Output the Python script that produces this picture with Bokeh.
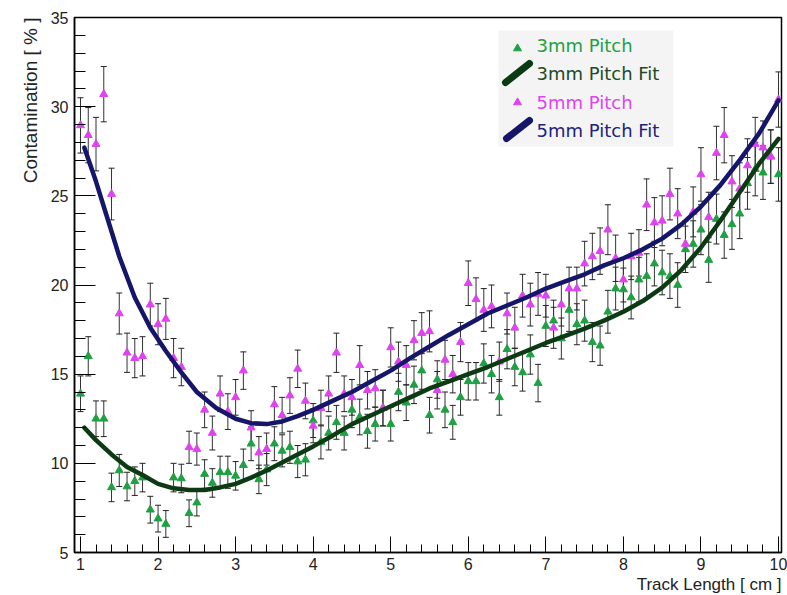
from bokeh.plotting import figure
from bokeh.models import (ColumnDataSource, Whisker, TeeHead, BoxAnnotation, Label,
                          Title, SingleIntervalTicker, Range1d)
from bokeh.embed import file_html
from bokeh.resources import INLINE

# ---------------- data ----------------
track_length = [1.0, 1.1, 1.2, 1.3, 1.4, 1.5, 1.6, 1.7, 1.8, 1.9,
                2.0, 2.1, 2.2, 2.3, 2.4, 2.5, 2.6, 2.7, 2.8, 2.9,
                3.0, 3.1, 3.2, 3.3, 3.4, 3.5, 3.6, 3.7, 3.8, 3.9,
                4.0, 4.1, 4.2, 4.3, 4.4, 4.5, 4.6, 4.7, 4.8, 4.9,
                5.0, 5.1, 5.2, 5.3, 5.4, 5.5, 5.6, 5.7, 5.8, 5.9,
                6.0, 6.1, 6.2, 6.3, 6.4, 6.5, 6.6, 6.7, 6.8, 6.9,
                7.0, 7.1, 7.2, 7.3, 7.4, 7.5, 7.6, 7.7, 7.8, 7.9,
                8.0, 8.1, 8.2, 8.3, 8.4, 8.5, 8.6, 8.7, 8.8, 8.9,
                9.0, 9.1, 9.2, 9.3, 9.4, 9.5, 9.6, 9.7, 9.8, 9.9, 10.0]

contam_3mm = [13.9, 16.0, 12.5, 12.5, 8.65, 9.6, 8.7, 9.0, 9.2, 7.4,
              6.9, 6.6, 9.2, 9.15, 7.2, 7.8, 9.4, 8.9, 9.5, 9.5,
              9.3, 9.9, 11.1, 9.1, 9.65, 11.1, 10.7, 10.9, 10.1, 10.2,
              12.4, 11.2, 11.7, 12.3, 11.7, 13.0, 12.6, 11.8, 12.2, 13.1,
              12.2, 14.0, 13.4, 14.4, 15.2, 12.7, 14.7, 13.0, 12.3, 13.7,
              14.6, 14.6, 15.6, 15.0, 13.7, 16.4, 15.4, 15.1, 16.1, 14.5,
              17.7, 18.0, 17.0, 18.6, 17.8, 18.0, 16.8, 16.6, 18.5, 19.8,
              19.75, 19.3, 20.3, 20.5, 21.2, 20.7, 20.5, 20.0, 22.0, 22.3,
              23.1, 21.4, 23.7, 22.8, 23.4, 24.0, 25.7, 26.5, 26.3, 27.2, 26.2]

err_3mm = [1.0, 1.1, 1.0, 1.0, 0.8, 0.9, 0.8, 0.8, 0.8, 0.75,
           0.75, 0.75, 0.8, 0.8, 0.75, 0.75, 0.8, 0.8, 0.9, 0.9,
           0.8, 0.9, 0.95, 0.8, 0.9, 0.95, 0.9, 0.9, 0.9, 0.9,
           0.95, 0.95, 0.95, 0.95, 0.95, 1.0, 1.0, 0.95, 0.95, 1.0,
           0.95, 1.05, 1.0, 1.05, 1.05, 1.0, 1.05, 1.0, 0.95, 1.0,
           1.05, 1.05, 1.1, 1.05, 1.0, 1.1, 1.05, 1.05, 1.1, 1.05,
           1.15, 1.15, 1.15, 1.2, 1.15, 1.15, 1.1, 1.1, 1.2, 1.2,
           1.2, 1.2, 1.25, 1.25, 1.25, 1.25, 1.25, 1.25, 1.3, 1.3,
           1.4, 1.25, 1.4, 1.3, 1.4, 1.4, 1.45, 1.5, 1.5, 1.5, 1.5]

contam_5mm = [28.95, 28.4, 27.9, 30.7, 25.1, 18.4, 16.2, 15.9, 16.0, 18.9,
              17.8, 18.1, 15.9, 15.4, 10.9, 10.8, 13.0, 11.7, 13.9, 12.9,
              13.7, 15.2, 12.0, 10.6, 10.8, 13.3, 12.7, 13.8, 15.3, 13.5,
              12.1, 13.1, 13.9, 16.2, 13.9, 13.7, 15.5, 14.1, 14.2, 13.1,
              16.5, 15.7, 15.5, 16.9, 17.3, 17.4, 14.1, 15.8, 15.0, 16.8,
              20.1, 19.2, 18.6, 18.8, 15.7, 18.4, 17.6, 19.4, 18.9, 19.5,
              19.4, 17.6, 18.9, 19.8, 19.8, 21.2, 21.6, 21.9, 23.1, 21.5,
              20.3, 21.6, 21.8, 24.5, 23.5, 23.6, 25.1, 24.0, 22.3, 24.1,
              26.2, 23.8, 27.4, 28.4, 25.8, 25.4, 26.7, 27.9, 27.7, 27.2, 30.4]

err_5mm = [1.55, 1.55, 1.5, 1.55, 1.45, 1.15, 1.1, 1.1, 1.1, 1.2,
           1.15, 1.15, 1.1, 1.05, 0.9, 0.9, 1.0, 0.95, 1.0, 1.0,
           1.0, 1.05, 0.95, 0.9, 0.9, 1.0, 1.0, 1.0, 1.05, 1.0,
           0.95, 1.0, 1.0, 1.1, 1.0, 1.0, 1.1, 1.05, 1.05, 1.0,
           1.1, 1.1, 1.1, 1.1, 1.15, 1.15, 1.05, 1.1, 1.05, 1.1,
           1.25, 1.2, 1.2, 1.2, 1.1, 1.15, 1.15, 1.2, 1.2, 1.2,
           1.2, 1.15, 1.2, 1.2, 1.2, 1.25, 1.3, 1.3, 1.4, 1.3,
           1.25, 1.3, 1.3, 1.45, 1.4, 1.4, 1.45, 1.4, 1.3, 1.4,
           1.5, 1.4, 1.5, 1.55, 1.45, 1.45, 1.5, 1.5, 1.5, 1.5, 1.55]

# fit curves
fit_x_3mm = [1.05, 1.2, 1.4, 1.6, 1.8, 2.0, 2.2, 2.4, 2.6, 2.8, 3.0, 3.2, 3.4,
             3.6, 3.8, 4.0, 4.25, 4.5, 4.75, 5.0, 5.25, 5.5, 5.75, 6.0, 6.25,
             6.5, 6.75, 7.0, 7.25, 7.5, 7.75, 8.0, 8.25, 8.5, 8.75, 9.0, 9.25,
             9.5, 9.75, 10.0]
fit_y_3mm = [12.0, 11.3, 10.5, 9.8, 9.35, 8.85, 8.6, 8.5, 8.5, 8.65, 8.85, 9.2, 9.6,
             10.05, 10.5, 10.95, 11.55, 12.2, 12.7, 13.2, 13.7, 14.2, 14.6, 15.0, 15.4,
             15.85, 16.3, 16.75, 17.15, 17.55, 18.0, 18.5, 19.1, 19.85, 20.85, 22.1, 23.6,
             25.2, 26.8, 28.2]

fit_x_5mm = [1.05, 1.2, 1.35, 1.5, 1.7, 1.9, 2.1, 2.3, 2.5, 2.75, 3.0, 3.2, 3.4,
             3.6, 3.8, 4.0, 4.25, 4.5, 4.75, 5.0, 5.25, 5.5, 5.75, 6.0, 6.25,
             6.5, 6.75, 7.0, 7.25, 7.5, 7.75, 8.0, 8.25, 8.5, 8.75, 9.0, 9.25,
             9.5, 9.75, 10.0]
fit_y_5mm = [27.7, 25.8, 23.7, 21.6, 19.3, 17.6, 16.3, 15.1, 14.0, 13.1, 12.5, 12.25, 12.2,
             12.35, 12.65, 13.0, 13.5, 14.0, 14.6, 15.2, 15.9, 16.55, 17.2, 17.8, 18.4,
             18.85, 19.3, 19.8, 20.2, 20.6, 21.1, 21.5, 22.0, 22.6, 23.4, 24.4, 25.6,
             27.0, 28.5, 30.35]

series_names = ["3mm Pitch", "3mm Pitch Fit", "5mm Pitch", "5mm Pitch Fit"]
x_title = "Track Length [ cm ]"
y_title = "Contamination [ % ]"

# ---------------- layout / style ----------------
W, H = 787, 595
FL, FR, FT, FB = 74, 781, 17, 552          # frame edges in page pixels
X0, X1 = 0.9226, 10.0387
Y0, Y1 = 5.0, 35.0

GREEN = "#1fa043"
DKGREEN = "#0c3a12"
MAGENTA = "#dd44ee"
NAVY = "#15156a"
FONT = "Liberation Sans"


def px_x(px):
    return X0 + (px - FL) / (FR - FL) * (X1 - X0)


def px_y(py):
    return Y1 - (py - FT) / (FB - FT) * (Y1 - Y0)


p = figure(width=W, height=H, x_range=Range1d(X0, X1), y_range=Range1d(Y0, Y1),
           output_backend="svg", toolbar_location=None,
           min_border_left=FL, min_border_right=W - FR,
           min_border_top=FT, min_border_bottom=H - FB)
p.background_fill_color = "white"
p.border_fill_color = "white"
p.xgrid.visible = False
p.ygrid.visible = False
p.outline_line_color = "black"
p.outline_line_width = 1.5

p.xaxis.ticker = SingleIntervalTicker(interval=1, num_minor_ticks=5)
p.yaxis.ticker = SingleIntervalTicker(interval=5, num_minor_ticks=5)
for ax, maj, mnr, stand in ((p.xaxis, 16, 8, 5), (p.yaxis, 21, 11, 6)):
    ax.major_tick_in = maj
    ax.major_tick_out = 0
    ax.minor_tick_in = mnr
    ax.minor_tick_out = 0
    ax.major_tick_line_color = "black"
    ax.minor_tick_line_color = "black"
    ax.axis_line_color = "black"
    ax.axis_line_width = 1.5
    ax.major_label_text_font = FONT
    ax.major_label_text_font_size = "16px"
    ax.major_label_text_color = "#222222"
    ax.major_label_standoff = stand

p.add_layout(Title(text=y_title, align="right", text_font=FONT, text_font_size="19px",
                   text_font_style="normal", text_color="#222222", standoff=13), "left")
p.add_layout(Title(text=x_title, align="right", text_font=FONT, text_font_size="17px",
                   text_font_style="normal", text_color="#222222", standoff=0), "below")


def add_series(yvals, errs, color):
    src = ColumnDataSource(dict(
        x=track_length, y=yvals,
        lower=[v - e for v, e in zip(yvals, errs)],
        upper=[v + e for v, e in zip(yvals, errs)]))
    w = Whisker(source=src, base="x", upper="upper", lower="lower",
                line_color="#333333", line_width=1,
                upper_head=TeeHead(size=6, line_color="#222222", line_width=1),
                lower_head=TeeHead(size=6, line_color="#222222", line_width=1))
    p.add_layout(w)
    p.scatter("x", "y", source=src, marker="triangle", size=8,
              fill_color=color, line_color=color)


# legend background first (underlay, below every glyph)
p.add_layout(BoxAnnotation(left=px_x(498), right=px_x(673), top=px_y(30), bottom=px_y(146),
                           fill_color="#f4f4f4", fill_alpha=1.0, line_alpha=0,
                           level="underlay"))

add_series(contam_3mm, err_3mm, GREEN)
add_series(contam_5mm, err_5mm, MAGENTA)

p.line(fit_x_3mm, fit_y_3mm, line_width=4.5, line_color=DKGREEN,
       line_join="round", line_cap="round")
p.line(fit_x_5mm, fit_y_5mm, line_width=4.5, line_color=NAVY,
       line_join="round", line_cap="round")

# ---------------- legend (hand built, coloured texts) ----------------
p.scatter([px_x(517)], [px_y(48)], marker="triangle", size=8,
          fill_color=GREEN, line_color=GREEN)
p.scatter([px_x(517)], [px_y(102)], marker="triangle", size=8,
          fill_color=MAGENTA, line_color=MAGENTA)
p.line([px_x(505), px_x(529)], [px_y(82), px_y(63)], line_width=7,
       line_color=DKGREEN, line_cap="round")
p.line([px_x(506), px_x(529)], [px_y(138), px_y(120)], line_width=7,
       line_color=NAVY, line_cap="round")
for txt, ty, col in ((series_names[0], 45, GREEN), (series_names[1], 73, "#1e4a24"),
                     (series_names[2], 102, MAGENTA), (series_names[3], 130, "#22227a")):
    p.add_layout(Label(x=px_x(536), y=px_y(ty), text=txt, text_font="DejaVu Sans",
                       text_font_size="18px", text_color=col, text_baseline="middle",
                       text_align="left"))

open("out.html", "w").write(file_html(p, INLINE))
